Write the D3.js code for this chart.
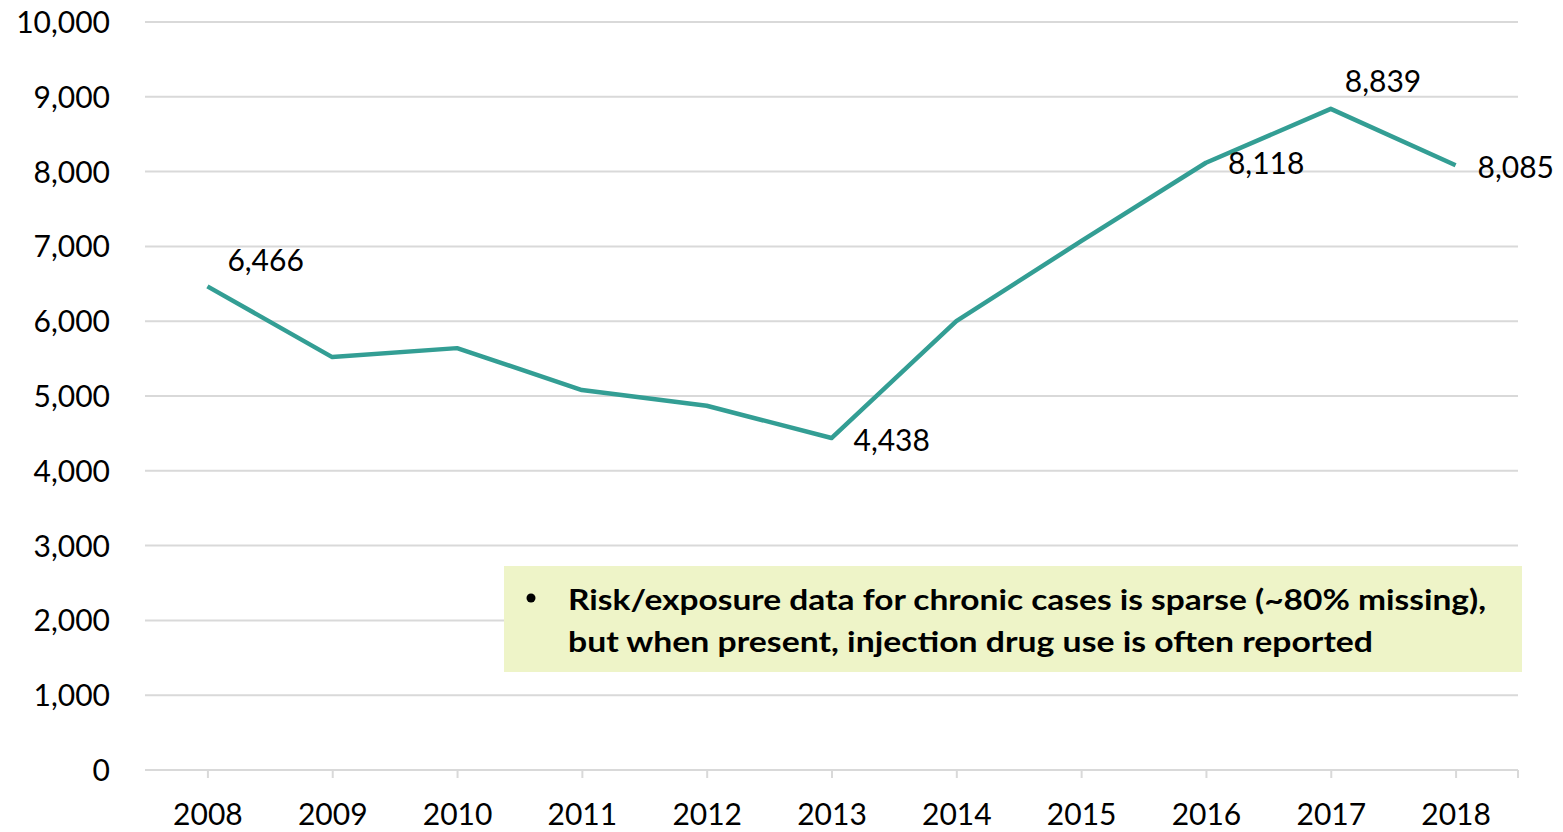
<!DOCTYPE html>
<html><head><meta charset="utf-8">
<script src="https://cdn.jsdelivr.net/npm/d3@7"></script>
<style>
html,body{margin:0;padding:0;background:#fff;}
svg{display:block;font-family:Lato,"Open Sans",sans-serif;}
</style></head>
<body>
<svg id="chart" width="1563" height="832"></svg>
<script>
const years = ["2008","2009","2010","2011","2012","2013","2014","2015","2016","2017","2018"];
const cases = [6466,5520,5640,5080,4870,4438,6000,7070,8118,8839,8085];
const labeledYears = ["2008","2013","2016","2017","2018"];
const yTicks = [0,1000,2000,3000,4000,5000,6000,7000,8000,9000,10000];
const noteLines = ["Risk/exposure data for chronic cases is sparse (~80% missing),","but when present, injection drug use is often reported"];

(function(){
const svg = d3.select("#chart");
const mLeft = 145, mRight = 1518, mTop = 22, mBottom = 770;
const fs = 30;
const x = d3.scalePoint().domain(years).range([mLeft,mRight]).padding(0.5);
const y = d3.scaleLinear().domain([0,10000]).range([mBottom,mTop]);
const fmt = d3.format(",");

// gridlines
svg.append("g").selectAll("line").data(yTicks).join("line")
  .attr("x1",mLeft).attr("x2",mRight)
  .attr("y1",d=>y(d)).attr("y2",d=>y(d))
  .attr("stroke","#d9d9d9").attr("stroke-width",2);

// y axis labels
const yAxis = d3.axisLeft(y).tickValues(yTicks).tickFormat(fmt).tickSize(0).tickPadding(0);
const gy = svg.append("g").attr("transform","translate(110,0)").call(yAxis);
gy.select(".domain").remove();
gy.selectAll("text").attr("font-size",fs).attr("fill","#000").attr("font-family","Lato,'Open Sans',sans-serif").attr("dy","0.35em");

// x axis
const xAxis = d3.axisBottom(x).tickSize(8).tickPadding(26).tickSizeOuter(0);
const gx = svg.append("g").attr("transform",`translate(0,${mBottom})`).call(xAxis);
gx.select(".domain").attr("stroke","#d9d9d9").attr("stroke-width",2).attr("d",`M${mLeft},0H${mRight}`);
gx.selectAll(".tick line").attr("stroke","#d9d9d9").attr("stroke-width",2);
gx.append("line").attr("x1",mRight).attr("x2",mRight).attr("y1",0).attr("y2",8).attr("stroke","#d9d9d9").attr("stroke-width",2);
gx.selectAll("text").attr("font-size",fs).attr("fill","#000").attr("font-family","Lato,'Open Sans',sans-serif");

// annotation box
const box = svg.append("g");
box.append("rect").attr("x",504).attr("y",566).attr("width",1018).attr("height",106).attr("fill","#eef4c8");
box.append("circle").attr("cx",531).attr("cy",598).attr("r",4.5).attr("fill","#000");
box.selectAll("text.note").data(noteLines).join("text").attr("class","note")
  .attr("x",568).attr("y",(d,i)=>610+i*42)
  .attr("font-size",29).attr("font-weight","bold").attr("fill","#000")
  .attr("textLength",(d,i)=>i===0?918:805).attr("lengthAdjust","spacingAndGlyphs")
  .text(d=>d);

// line
const data = years.map((yr,i)=>({year:yr,value:cases[i]}));
svg.append("path").datum(data)
  .attr("fill","none").attr("stroke","#339e94").attr("stroke-width",4.5).attr("stroke-linejoin","round")
  .attr("d",d3.line().x(d=>x(d.year)).y(d=>y(d.value)));

// data labels
const offsets = {"2008":[20,-26],"2013":[22,2],"2016":[22,1],"2017":[14,-27],"2018":[22,2]};
svg.append("g").selectAll("text").data(data.filter(d=>labeledYears.includes(d.year))).join("text")
  .attr("x",d=>x(d.year)+offsets[d.year][0])
  .attr("y",d=>y(d.value)+offsets[d.year][1])
  .attr("dy","0.35em")
  .attr("font-size",fs).attr("fill","#000")
  .text(d=>fmt(d.value));
})();
</script>
</body></html>
